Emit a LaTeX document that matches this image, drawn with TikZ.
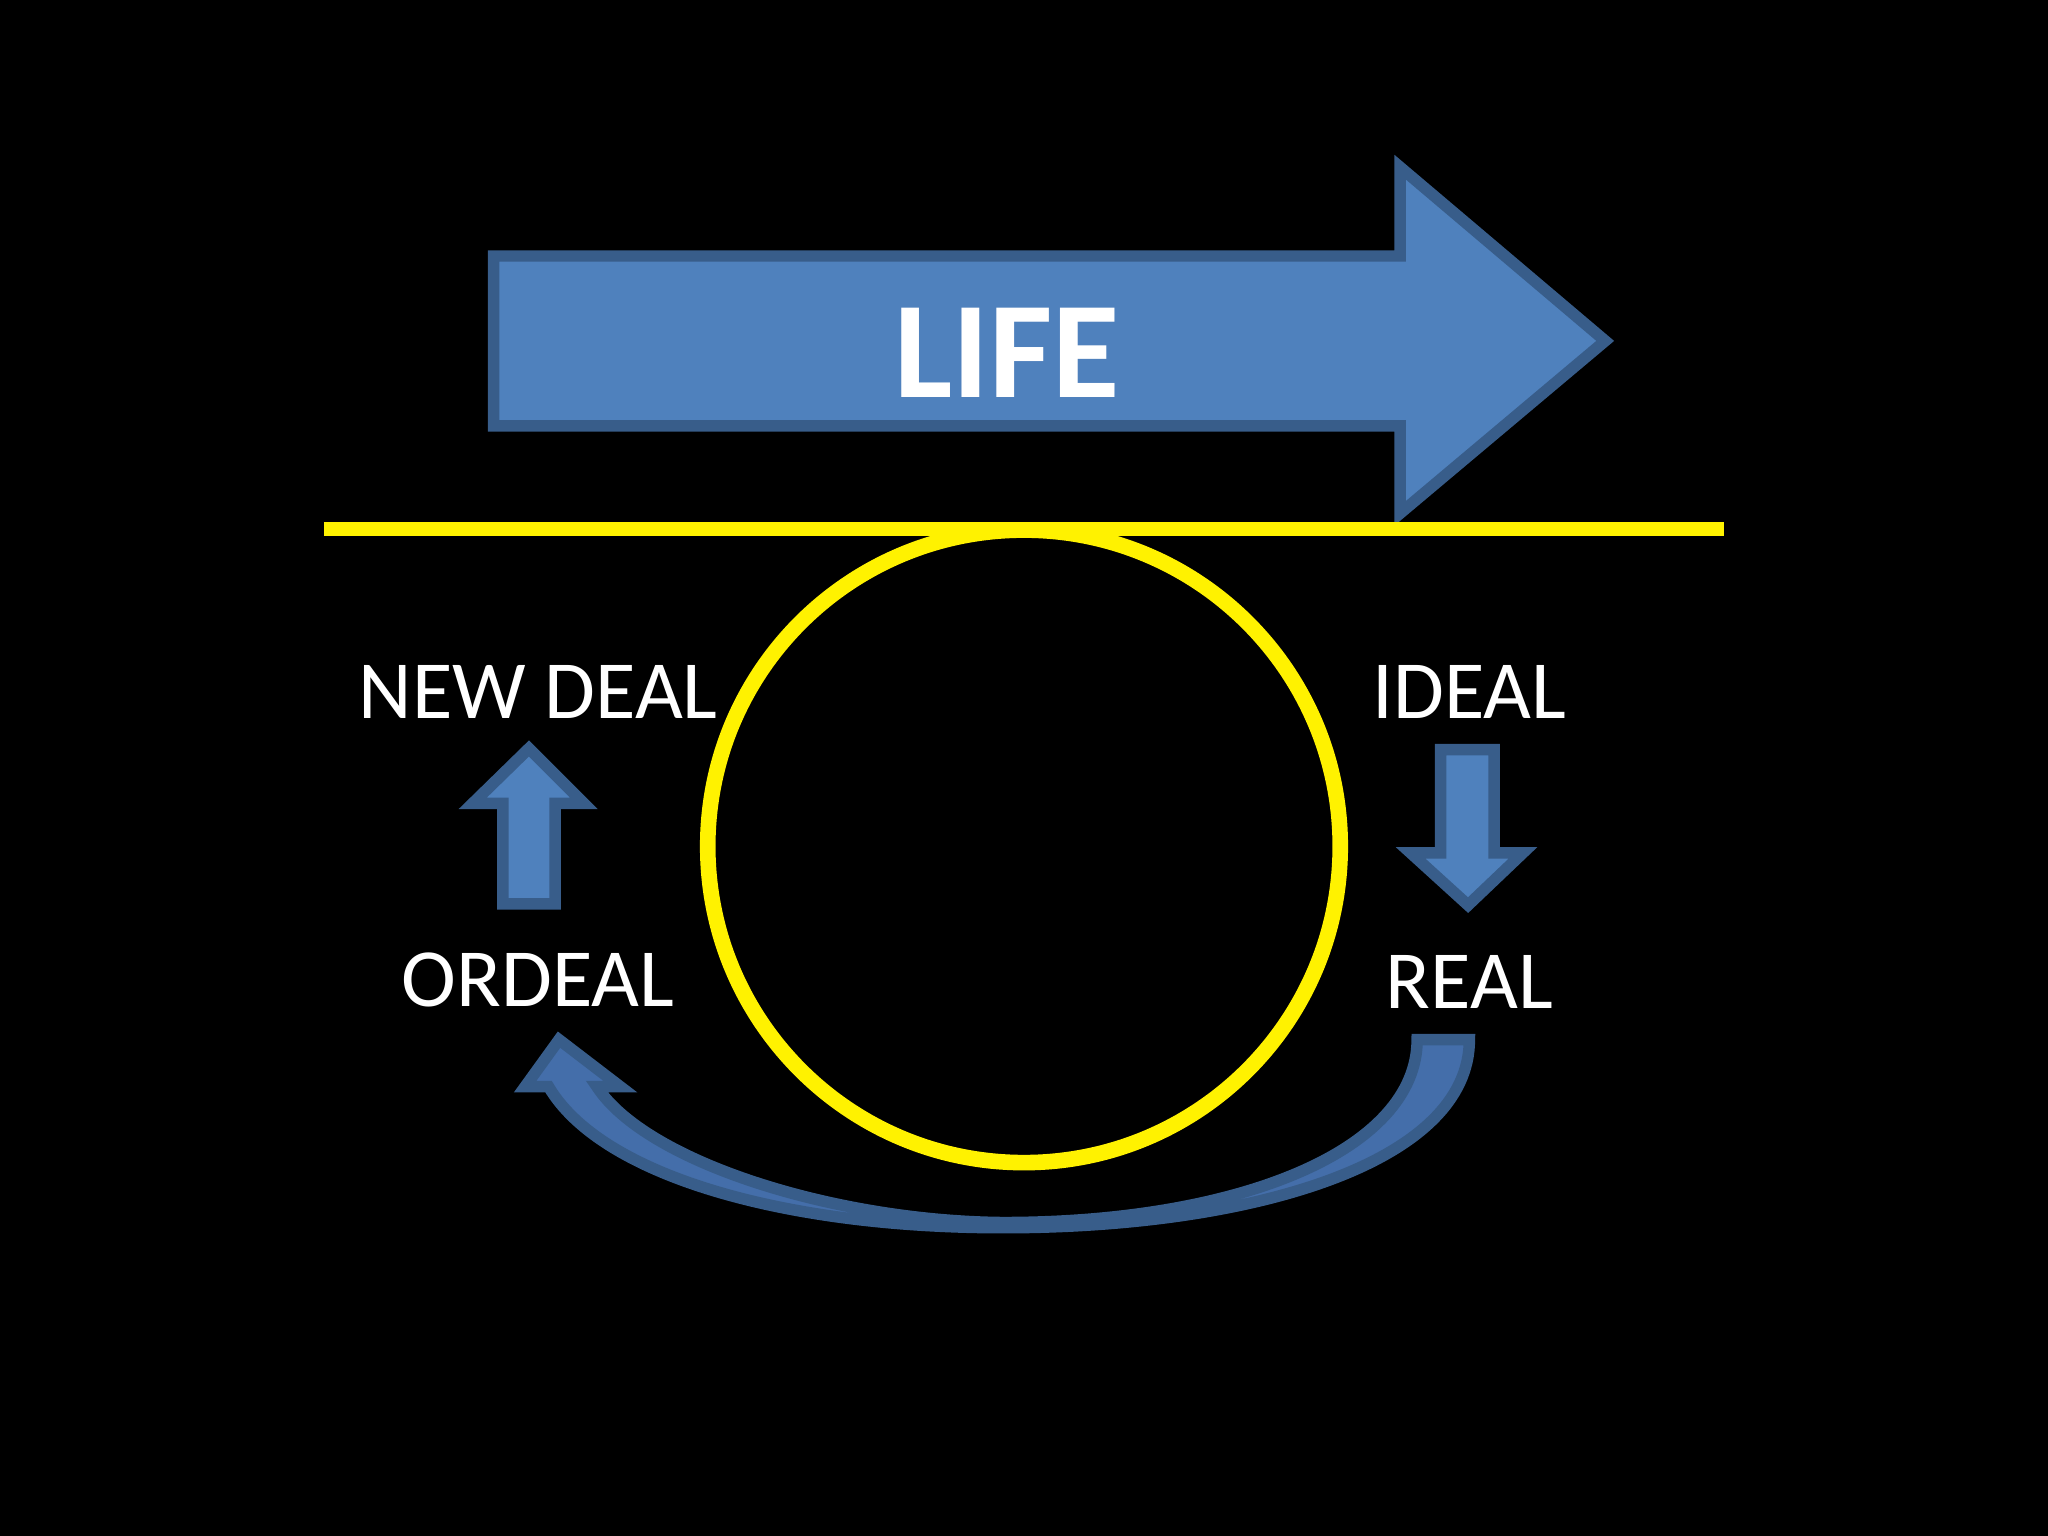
\documentclass[tikz,border=0pt]{standalone}
\usepackage{fontspec}
\setmainfont{Carlito}
\begin{document}
\begin{tikzpicture}[x=0.01cm,y=-0.01cm,
  blue arrow/.style={fill={rgb,255:red,79;green,129;blue,189},draw={rgb,255:red,56;green,93;blue,138},line width=2.5pt,line join=miter},
  lbl/.style={text=white,font=\fontsize{18}{20}\selectfont}]
\fill[black] (0,0) rectangle (1568,1176);
\useasboundingbox (0,0) rectangle (1568,1176);
% big arrow
\draw[blue arrow] (378,196) -- (1072,196) -- (1072,128) -- (1229,261) -- (1072,393) -- (1072,326) -- (378,326) -- cycle;
\node[text=white,font=\bfseries\fontsize{30}{32}\selectfont] (life) at (771,270) {LIFE};
% yellow line and circle
\coordinate (la) at (248,405); \coordinate (lb) at (1320,405);
\draw[yellow,line width=3.2pt] (la) -- (lb);
\node[circle,draw=yellow,line width=3.4pt,minimum size=4.84cm,inner sep=0pt] (c) at (784,648) {};
% labels
\node[lbl] (nd) at (412,530) {NEW DEAL};
\node[lbl] (id) at (1125,530) {IDEAL};
\node[lbl] (or) at (412,750) {ORDEAL};
\node[lbl] (re) at (1125,752) {REAL};
% up arrow
\draw[blue arrow] (385,692) -- (385,615) -- (362,615) -- (405,573) -- (447,615) -- (425,615) -- (425,692) -- cycle;
% down arrow
\draw[blue arrow] (1103,574) -- (1144,574) -- (1144,653) -- (1166,653) -- (1124,693) -- (1080,653) -- (1103,653) -- cycle;
% curved arrow
\draw[blue arrow,fill={rgb,255:red,68;green,110;blue,170}] (1125,796) .. controls (1125,890) and (960,940) .. (768,940)
  .. controls (600,940) and (460,900) .. (420,832) -- (402,832) -- (428,796) -- (475,832) -- (457,832)
  .. controls (495,890) and (640,935) .. (768,936)
  .. controls (950,936) and (1085,880) .. (1085,796) -- cycle;
\end{tikzpicture}
\end{document}
